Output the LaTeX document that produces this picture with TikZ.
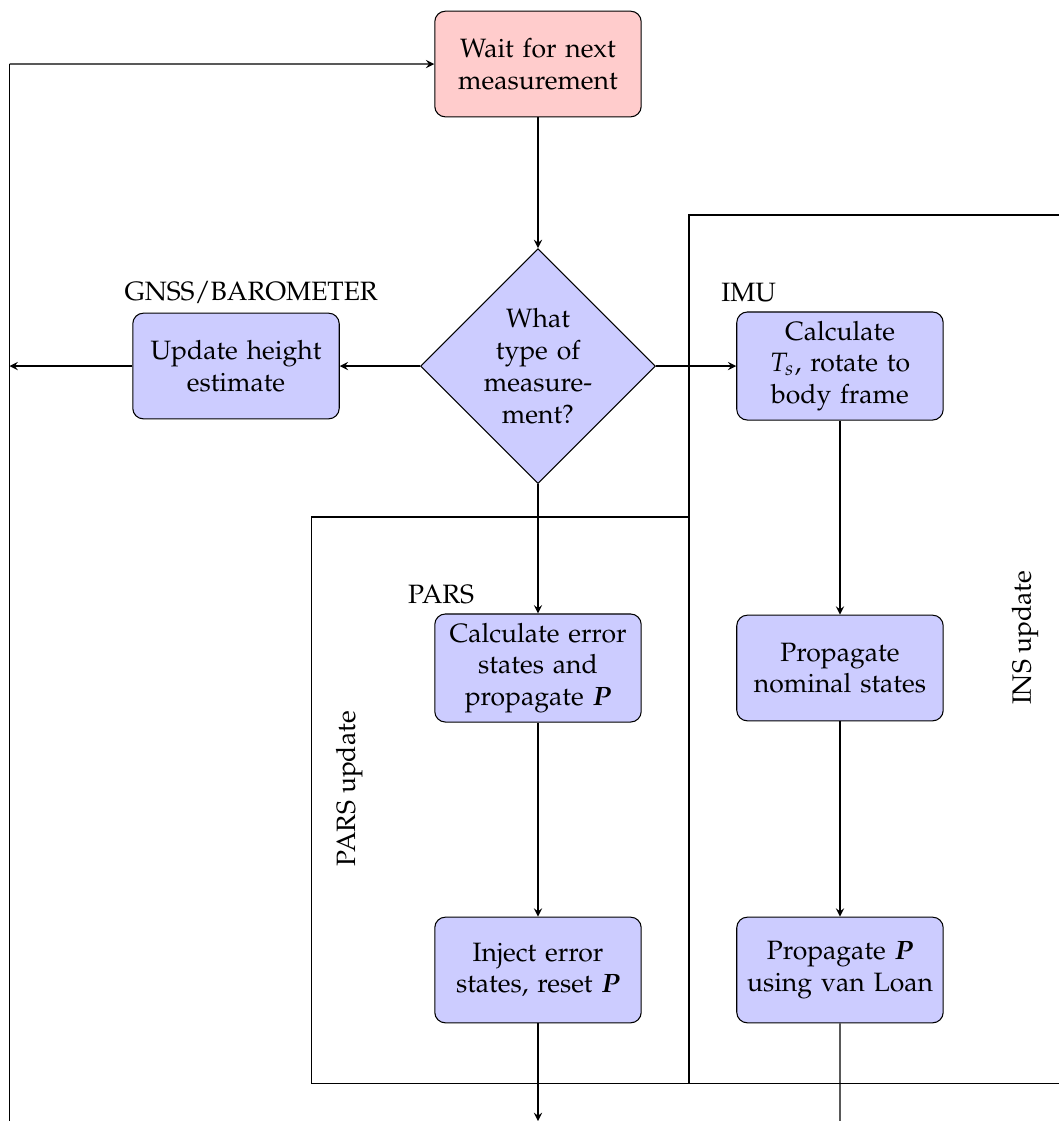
\documentclass[tikz,border=0pt]{standalone}
\usepackage[T1]{fontenc}
\usepackage{mathpazo}
\usepackage{amsmath}
\usepackage{bm}
\usepackage{tikz}
\usetikzlibrary{shapes.geometric, arrows, positioning}
\tikzstyle{startstop} = [rectangle, rounded corners, minimum width=2.7cm, minimum height=1.4cm, text width=2.5cm, text centered, draw=black, fill=red!20]
\tikzstyle{process} = [rectangle, rounded corners, minimum width=2.7cm, minimum height=1.4cm, text width=2.5cm, text centered, draw=black, fill=blue!20]
\tikzstyle{decision} = [diamond, aspect=1, text width=1.5cm, inner sep=0.6pt, text centered, draw=black, fill=blue!20]
\tikzstyle{region} = [draw=black]
\tikzstyle{regionlabel} = [rotate=90]
\tikzstyle{arrow} = [->,>=stealth]
\begin{document}
\begin{tikzpicture}[node distance = 4cm, on grid, auto]
	\useasboundingbox (-7.126,-10) rectangle (6.9,4.848);
	% update regions
	\draw[region] (-3,-2) rectangle (2,-9.5);
	\draw[region] (2,2) rectangle (7.5,-9.5);
	\node (parsregion) [regionlabel] at (-2.5,-5.6) {PARS update};
	\node (insregion) [regionlabel] at (6.45,-3.6) {INS update};

	\node (measure) [decision] {What type of measurement?};
	\node (wait) [startstop, above=of measure] {Wait for next measurement};
	\node (height) [process, left=of measure, label={[xshift=2mm]above:GNSS/BAROMETER}] {Update height estimate};
	\node (rotate) [process, right=of measure, label=above left:IMU] {Calculate $T_s$, rotate to body frame};
	\node (errstates) [process, below=of measure, label=above left:PARS] {Calculate error states and propagate $\bm{P}$};
	\node (nominal) [process, below=of rotate] {Propagate nominal states};
	\node (inject) [process, below=of errstates] {Inject error states, reset $\bm{P}$};
	\node (vanloan) [process, below=of nominal] {Propagate $\bm{P}$ using van Loan};

	\coordinate (looptop) at (-7,4);
	\coordinate (loopmid) at (-7,0);
	\coordinate (loopbot) at (-7,-10.5);
	\coordinate (injectout) at (0,-10);
	\coordinate (vanloanout) at (4,-10.5);

	\draw[arrow] (wait) -- (measure);
	\draw[arrow] (measure) -- (height);
	\draw[arrow] (measure) -- (rotate);
	\draw[arrow] (measure) -- (errstates);
	\draw[arrow] (rotate) -- (nominal);
	\draw[arrow] (nominal) -- (vanloan);
	\draw[arrow] (errstates) -- (inject);
	\draw[arrow] (height) -- (loopmid);
	\draw[arrow] (inject) -- (injectout);
	\draw (vanloan) -- (vanloanout);
	\draw (loopbot) -- (looptop);
	\draw[arrow] (looptop) -- (wait);
\end{tikzpicture}
\end{document}
